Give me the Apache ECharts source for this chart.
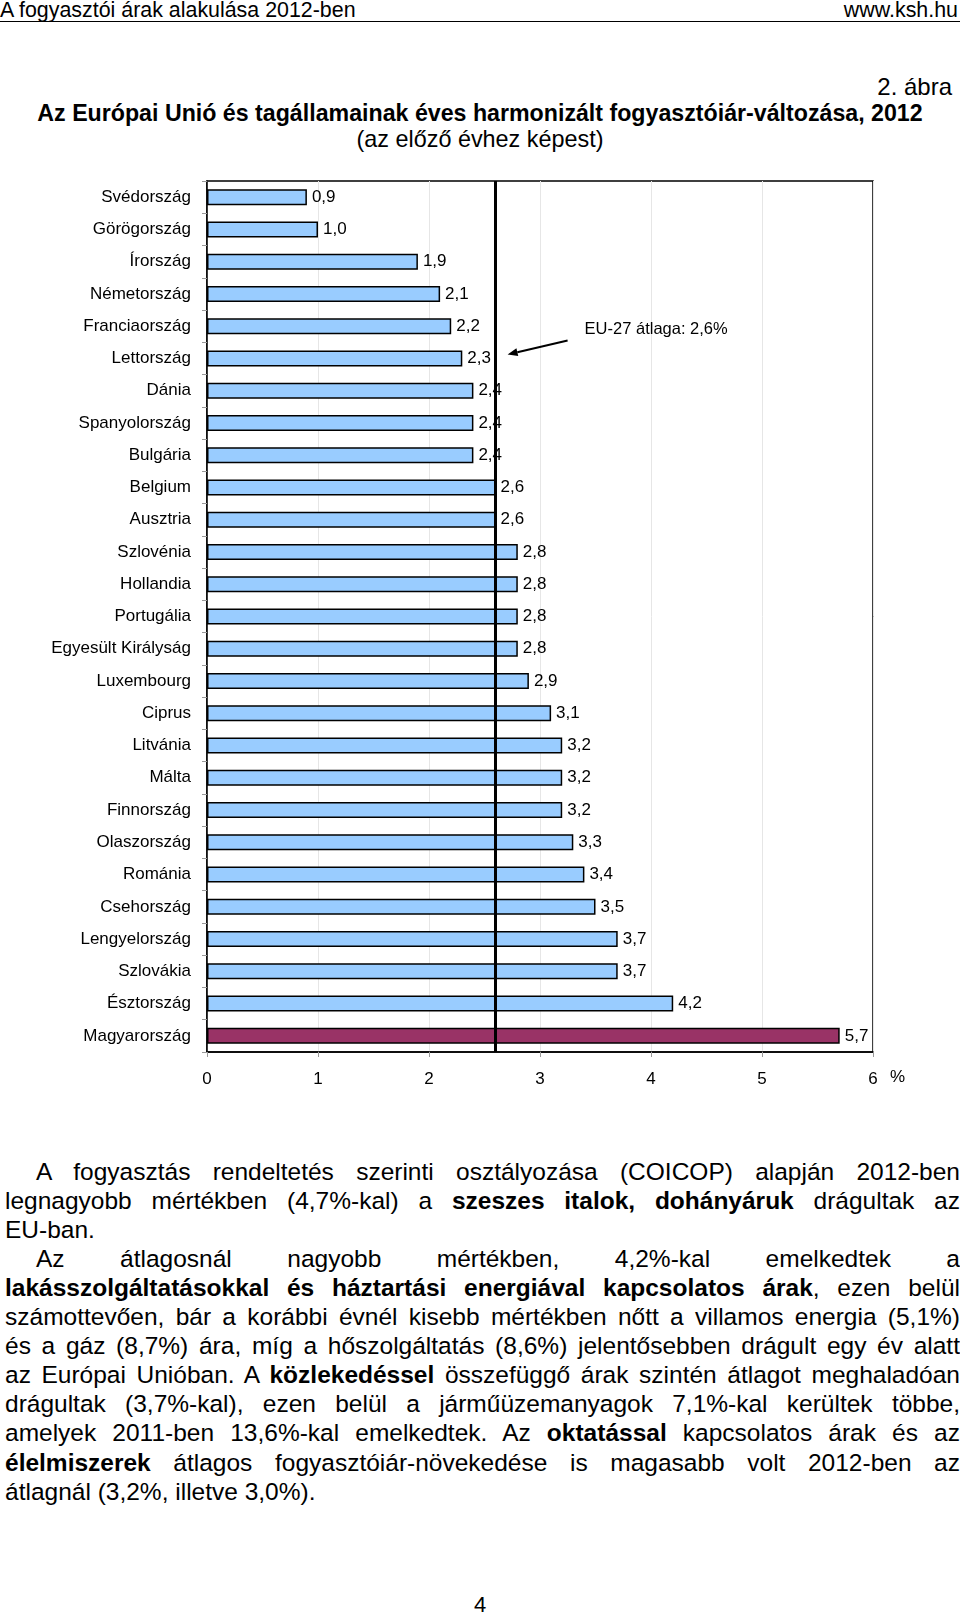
<!DOCTYPE html>
<html>
<head>
<meta charset="utf-8">
<script src="https://cdn.jsdelivr.net/npm/echarts@6/dist/echarts.min.js"></script>
<style>
  html, body { margin: 0; padding: 0; background: #fff; }
  body { width: 960px; height: 1616px; position: relative; overflow: hidden; font-family: "Liberation Sans", Arial, sans-serif; color: #000; }
  .abs { position: absolute; white-space: nowrap; }
  #chart { position: absolute; left: 0; top: 0; width: 960px; height: 1110px; }
  .hdr { font-size: 21.4px; top: 0; line-height: 21px; }
  #rule { position: absolute; left: 0; top: 21px; width: 960px; height: 0; border-top: 1.5px solid #000; }
  .txt { position: absolute; left: 5px; width: 955px; font-size: 24.5px; line-height: 29px; white-space: nowrap; }
  .j { text-align: justify; text-align-last: justify; }
</style>
</head>
<body>
<div class="abs hdr" style="left:0;">A fogyasztói árak alakulása 2012-ben</div>
<div class="abs hdr" style="right:2px;">www.ksh.hu</div>
<div id="rule"></div>
<div class="abs" style="right:8px; top:73px; font-size:24px; line-height:28px;">2. ábra</div>
<div class="abs" style="left:0; width:960px; text-align:center; top:99px; font-size:23.2px; line-height:28px; font-weight:bold;">Az Európai Unió és tagállamainak éves harmonizált fogyasztóiár-változása, 2012</div>
<div class="abs" style="left:0; width:960px; text-align:center; top:125px; font-size:23.4px; line-height:28px;">(az előző évhez képest)</div>

<div id="chart"></div>

<div id="body"></div>
<div class="abs" style="left:0; width:960px; text-align:center; top:1592px; font-size:22px; line-height:26px;">4</div>

<script>
// ---- data ----
var countries = ["Svédország","Görögország","Írország","Németország","Franciaország","Lettország","Dánia","Spanyolország","Bulgária","Belgium","Ausztria","Szlovénia","Hollandia","Portugália","Egyesült Királyság","Luxembourg","Ciprus","Litvánia","Málta","Finnország","Olaszország","Románia","Csehország","Lengyelország","Szlovákia","Észtország","Magyarország"];
var values = [0.9,1.0,1.9,2.1,2.2,2.3,2.4,2.4,2.4,2.6,2.6,2.8,2.8,2.8,2.8,2.9,3.1,3.2,3.2,3.2,3.3,3.4,3.5,3.7,3.7,4.2,5.7];
var highlight = "Magyarország";
var euAverage = 2.6;
var euLabel = "EU-27 átlaga: 2,6%";
var xTicks = [0,1,2,3,4,5,6];

var bodyLines = [
  {t:"A fogyasztás rendeltetés szerinti osztályozása (COICOP) alapján 2012-ben", ind:true, j:true},
  {t:"legnagyobb mértékben (4,7%-kal) a <b>szeszes italok, dohányáruk</b> drágultak az", j:true},
  {t:"EU-ban.", j:false},
  {t:"Az átlagosnál nagyobb mértékben, 4,2%-kal emelkedtek a", ind:true, j:true},
  {t:"<b>lakásszolgáltatásokkal és háztartási energiával kapcsolatos árak</b>, ezen belül", j:true},
  {t:"számottevően, bár a korábbi évnél kisebb mértékben nőtt a villamos energia (5,1%)", j:true},
  {t:"és a gáz (8,7%) ára, míg a hőszolgáltatás (8,6%) jelentősebben drágult egy év alatt", j:true},
  {t:"az Európai Unióban. A <b>közlekedéssel</b> összefüggő árak szintén átlagot meghaladóan", j:true},
  {t:"drágultak (3,7%-kal), ezen belül a járműüzemanyagok 7,1%-kal kerültek többe,", j:true},
  {t:"amelyek 2011-ben 13,6%-kal emelkedtek. Az <b>oktatással</b> kapcsolatos árak és az", j:true},
  {t:"<b>élelmiszerek</b> átlagos fogyasztóiár-növekedése is magasabb volt 2012-ben az", j:true},
  {t:"átlagnál (3,2%, illetve 3,0%).", j:false}
];

// ---- body text ----
var bodyEl = document.getElementById('body');
bodyLines.forEach(function(l, i){
  var d = document.createElement('div');
  d.className = 'txt' + (l.j ? ' j' : '');
  d.style.top = (1157 + i * 29.05) + 'px';
  if (l.ind) { d.style.left = '36px'; d.style.width = '924px'; }
  d.innerHTML = l.t;
  bodyEl.appendChild(d);
});

// ---- chart ----
var chart = echarts.init(document.getElementById('chart'), null, {renderer: 'canvas'});
var fmt = function(v){ return v.toFixed(1).replace('.', ','); };
var option = {
  animation: false,
  grid: { left: 207, top: 181, width: 666, height: 871, show: true, borderColor: '#000', borderWidth: 1.5, backgroundColor: 'transparent' },
  xAxis: {
    type: 'value', min: xTicks[0], max: xTicks[xTicks.length-1], interval: 1,
    axisLine: { show: true, lineStyle: { color: '#000', width: 1.5 } },
    axisTick: { show: true, length: 5, lineStyle: { color: '#999' } },
    splitLine: { show: true, lineStyle: { color: '#e6e6e6', width: 1 } },
    axisLabel: { fontSize: 17, color: '#000', margin: 19, fontFamily: 'Liberation Sans' }
  },
  yAxis: {
    type: 'category', inverse: true, data: countries,
    axisLine: { show: true, lineStyle: { color: '#000', width: 1.5 } },
    axisTick: { show: true, length: 5, lineStyle: { color: '#999' } },
    axisLabel: { fontSize: 17, color: '#000', margin: 16, fontFamily: 'Liberation Sans' }
  },
  series: [{
    type: 'bar',
    barWidth: 16,
    data: values.map(function(v, i){
      return { value: v, itemStyle: { color: countries[i] === highlight ? '#993366' : '#99CCFF' } };
    }),
    itemStyle: { borderColor: '#000', borderWidth: 1.5 },
    label: { show: true, position: 'right', distance: 5, formatter: function(p){ return fmt(p.value); }, fontSize: 17, color: '#000', fontFamily: 'Liberation Sans' },
    markLine: {
      silent: true, symbol: 'none', z: 10,
      label: { show: false },
      lineStyle: { color: '#000', width: 3, type: 'solid' },
      data: [{ xAxis: euAverage }]
    }
  }]
};
chart.setOption(option);

// annotations positioned from data coordinates
var pTip = chart.convertToPixel({gridIndex: 0}, [euAverage, 'Lettország']);
var pTxt = chart.convertToPixel({gridIndex: 0}, [euAverage, 'Franciaország']);
var tipX = pTip[0] + 12, tipY = pTip[1] - 4;
var tailX = pTip[0] + 72, tailY = pTip[1] - 18;
var ang = Math.atan2(tipY - tailY, tipX - tailX);
var ah = 10, aw = 4;
var bx = tipX - ah * Math.cos(ang), by = tipY - ah * Math.sin(ang);
chart.setOption({
  graphic: [
    { type: 'line', shape: { x1: tailX, y1: tailY, x2: bx, y2: by }, style: { stroke: '#000', lineWidth: 2 }, z: 20 },
    { type: 'polygon', shape: { points: [[tipX, tipY], [bx + aw * Math.sin(ang), by - aw * Math.cos(ang)], [bx - aw * Math.sin(ang), by + aw * Math.cos(ang)]] }, style: { fill: '#000' }, z: 20 },
    { type: 'text', x: pTxt[0] + 89, y: pTxt[1] + 3, style: { text: euLabel, fontSize: 16.5, fill: '#000', fontFamily: 'Liberation Sans', textVerticalAlign: 'middle' }, z: 20 },
    { type: 'text', x: 890, y: 1077, style: { text: '%', fontSize: 17, fill: '#000', fontFamily: 'Liberation Sans', textVerticalAlign: 'middle' }, z: 20 }
  ]
});
</script>
</body>
</html>
